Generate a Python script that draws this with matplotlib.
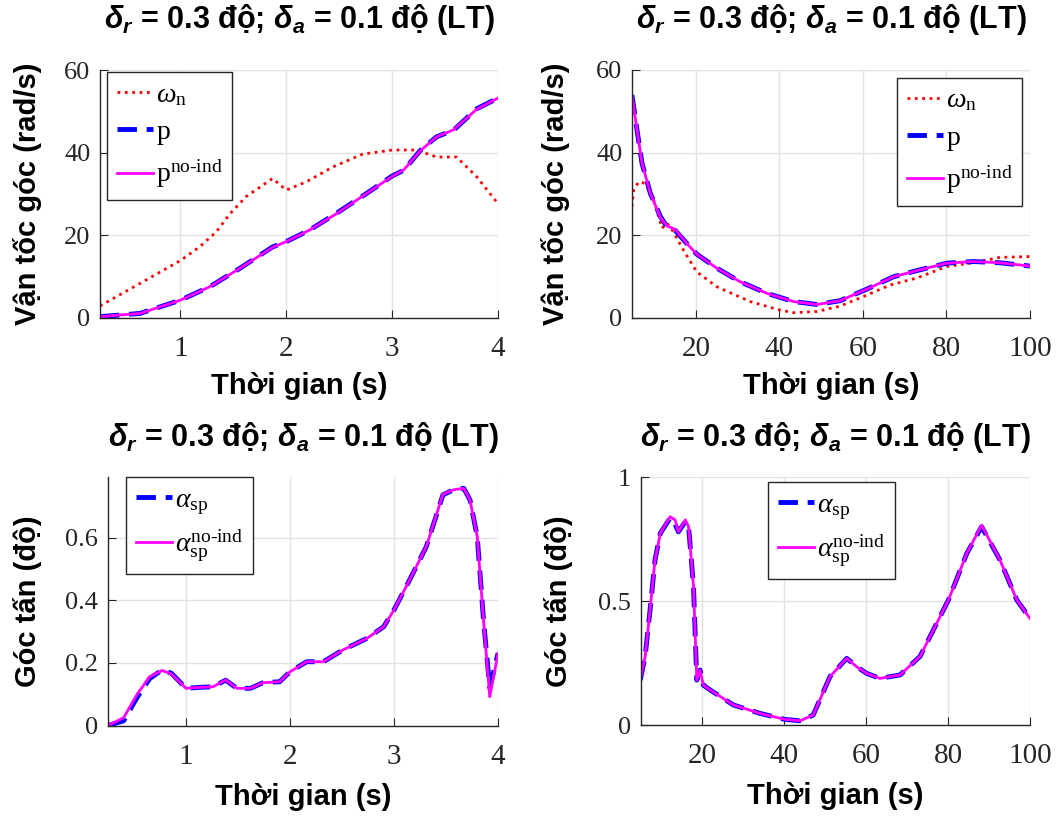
import matplotlib
matplotlib.use("Agg")
import matplotlib.pyplot as plt

# fonts: sans bold for titles/labels, serif for ticks and legends
plt.rcParams['font.family'] = ['Liberation Sans', 'DejaVu Sans']
plt.rcParams['mathtext.fontset'] = 'custom'
plt.rcParams['mathtext.rm'] = 'Liberation Serif'
plt.rcParams['mathtext.it'] = 'Liberation Serif:italic'
plt.rcParams['mathtext.bf'] = 'Liberation Sans:bold:italic'

# ---- data: top-left, angular rates over 0..4 s ----
t1_w = [0.24, 0.62, 1.0, 1.18, 1.34, 1.47, 1.62, 1.87, 2.0, 2.19, 2.44, 2.72,
        3.0, 3.23, 3.42, 3.61, 3.80, 4.0]
w1 = [2.8, 8.3, 13.8, 17.1, 20.8, 25.2, 29.3, 33.7, 30.9, 32.9, 36.5, 39.6,
      40.6, 40.6, 38.9, 38.9, 34.1, 27.6]
t1_p = [0.24, 0.62, 1.0, 1.28, 1.56, 1.87, 2.0, 2.22, 2.47, 2.76, 3.0, 3.11,
        3.27, 3.42, 3.58, 3.80, 4.0]
p1 = [0.2, 1.0, 4.2, 7.5, 11.9, 17.1, 18.4, 21.2, 25.2, 30.1, 34.3, 35.7,
      40.6, 43.8, 45.4, 50.6, 53.2]
p1_noind = [0.2, 1.0, 4.2, 7.5, 11.9, 17.0, 18.4, 21.2, 25.1, 30.1, 34.2, 35.8,
            40.5, 43.8, 45.5, 50.5, 53.2]

# ---- data: top-right, angular rates over 5..100 s ----
t2_w = [4.7, 5.1, 6.3, 7.9, 9.9, 11.9, 13.1, 14.6, 17.0, 20.2, 25.0, 33.0,
        39.9, 43.4, 49.0, 54.5, 60.1, 66.5, 72.9, 80.1, 86.4, 92.8, 100]
w2 = [26.9, 30.9, 32.9, 32.5, 28.5, 21.7, 22.9, 20.8, 16.4, 11.1, 7.5, 3.9,
      1.9, 1.2, 1.5, 2.8, 5.1, 7.9, 9.6, 12.4, 13.3, 14.6, 14.8]
t2_p = [4.7, 5.9, 7.1, 9.1, 11.5, 13.1, 15.0, 17.8, 20.2, 25.0, 30.6, 37.0,
        43.4, 49.0, 54.5, 60.9, 67.3, 73.7, 80.1, 86.4, 92.8, 100]
p2 = [53.9, 45.5, 37.4, 30.1, 24.5, 22.0, 21.2, 18.0, 15.4, 12.0, 8.7, 5.9,
      3.9, 3.2, 4.1, 6.9, 9.9, 11.6, 13.2, 13.6, 13.3, 12.5]
p2_noind = [53.9, 45.5, 37.4, 30.1, 24.3, 22.2, 21.4, 18.0, 15.4, 12.0, 8.7, 5.9,
            3.9, 3.2, 4.1, 6.9, 9.9, 11.6, 13.2, 13.6, 13.3, 12.5]

# ---- data: bottom-left, angle of attack over 0..4 s ----
t3 = [0.25, 0.40, 0.53, 0.65, 0.77, 0.86, 1.0, 1.13, 1.26, 1.38, 1.49, 1.62,
      1.74, 1.90, 2.0, 2.16, 2.32, 2.51, 2.74, 2.90, 3.0, 3.15, 3.31, 3.47,
      3.57, 3.67, 3.73, 3.80, 3.86, 3.92, 4.0]
a3 = [0.0, 0.015, 0.09, 0.15, 0.178, 0.167, 0.119, 0.122, 0.124, 0.145, 0.119,
      0.119, 0.137, 0.140, 0.172, 0.204, 0.204, 0.242, 0.279, 0.316, 0.37,
      0.466, 0.572, 0.738, 0.754, 0.759, 0.722, 0.604, 0.338, 0.12, 0.231]
a3_noind = [0.0, 0.025, 0.10, 0.156, 0.176, 0.165, 0.119, 0.122, 0.124, 0.146,
            0.119, 0.119, 0.137, 0.140, 0.172, 0.204, 0.204, 0.242, 0.279,
            0.316, 0.37, 0.466, 0.572, 0.740, 0.754, 0.759, 0.722, 0.604,
            0.338, 0.092, 0.231]

# ---- data: bottom-right, angle of attack over 5..100 s ----
t4 = [4.9, 6.1, 7.3, 8.5, 9.8, 12.2, 13.4, 14.2, 15.9, 16.7, 17.9, 18.7, 19.5,
      20.3, 22.0, 27.6, 34.1, 40.1, 43.9, 47.1, 51.2, 55.3, 57.7, 60.2, 63.4,
      68.3, 73.2, 80.1, 84.6, 88.2, 92.7, 96.8, 100]
a4 = [0.181, 0.277, 0.464, 0.665, 0.773, 0.835, 0.81, 0.779, 0.82, 0.80,
      0.558, 0.181, 0.222, 0.161, 0.141, 0.081, 0.047, 0.023, 0.017, 0.040,
      0.195, 0.269, 0.235, 0.208, 0.188, 0.202, 0.277, 0.504, 0.692, 0.80,
      0.665, 0.504, 0.43]
a4_noind = [0.181, 0.277, 0.464, 0.665, 0.773, 0.84, 0.827, 0.779, 0.827, 0.80,
            0.558, 0.181, 0.222, 0.161, 0.141, 0.081, 0.047, 0.023, 0.017,
            0.040, 0.195, 0.269, 0.235, 0.208, 0.188, 0.202, 0.277, 0.504,
            0.692, 0.806, 0.665, 0.504, 0.43]

title_txt = r'$\mathbf{\delta_r}$ = 0.3 độ; $\mathbf{\delta_a}$ = 0.1 độ (LT)'
lbl_w = r'$\omega_{\rm n}$'
lbl_p = r'$\rm p$'
lbl_pn = r'$\rm p^{no\text{-}ind}$'
lbl_a = r'$\alpha_{\rm sp}$'
lbl_an = r'$\alpha_{\rm sp}^{\rm no\text{-}ind}$'

dash_style = (0, (4, 2))

fig = plt.figure(figsize=(10.57, 8.16), dpi=100)
ax_tl = fig.add_axes([0.0946, 0.6109, 0.3765, 0.3033])
ax_tr = fig.add_axes([0.5979, 0.6107, 0.3765, 0.3036])
ax_bl = fig.add_axes([0.1022, 0.1109, 0.3690, 0.3045])
ax_br = fig.add_axes([0.6061, 0.1115, 0.3683, 0.3039])


def style_axes(ax, title, title_pad, ylabel, ylab_x, xlab_y):
    # matlab-like look: grid, inward ticks, only left/bottom axis lines
    ax.grid(True, color='#e3e3e3', linewidth=1.0)
    ax.set_axisbelow(True)
    for s in ['top', 'right']:
        ax.spines[s].set_visible(False)
    for s in ['left', 'bottom']:
        ax.spines[s].set_color('#262626')
        ax.spines[s].set_linewidth(1.0)
    ax.tick_params(axis='both', direction='in', length=6, color='#262626',
                   labelcolor='#262626')
    ax.tick_params(axis='x', pad=13, labelsize=21)
    ax.tick_params(axis='y', pad=7, labelsize=19)
    for lab in ax.get_xticklabels() + ax.get_yticklabels():
        lab.set_fontfamily('Liberation Serif')
    ax.set_title(title, fontsize=22, fontweight='bold', pad=title_pad)
    ax.set_xlabel('Thời gian (s)', fontsize=21, fontweight='bold')
    ax.xaxis.set_label_coords(0.5, xlab_y)
    ax.set_ylabel(ylabel, fontsize=21, fontweight='bold')
    ax.yaxis.set_label_coords(ylab_x, 0.5)


def add_legend(ax, x, y):
    leg = ax.legend(loc='upper left', bbox_to_anchor=(x, y), fontsize=20,
                    fancybox=False, framealpha=1, edgecolor='#262626',
                    handlelength=1.3, handletextpad=0.1, borderpad=0.35,
                    labelspacing=0.4, borderaxespad=0)
    leg.get_frame().set_linewidth(1.0)


# top-left
ax_tl.plot(t1_w, w1, color='red', linestyle=':', linewidth=2, label=lbl_w)
ax_tl.plot(t1_p, p1, color='blue', linestyle=dash_style, linewidth=3.5, label=lbl_p)
ax_tl.plot(t1_p, p1_noind, color='magenta', linewidth=2, label=lbl_pn)
ax_tl.set_xlim(0.24, 4)
ax_tl.set_ylim(0, 60)
ax_tl.set_xticks([1, 2, 3, 4])
ax_tl.set_yticks([0, 20, 40, 60])
style_axes(ax_tl, title_txt, 30, 'Vận tốc góc (rad/s)', -0.145, -0.22)
add_legend(ax_tl, 0.018, 0.992)

# top-right
ax_tr.plot(t2_w, w2, color='red', linestyle=':', linewidth=2, label=lbl_w)
ax_tr.plot(t2_p, p2, color='blue', linestyle=dash_style, linewidth=3.5, label=lbl_p)
ax_tr.plot(t2_p, p2_noind, color='magenta', linewidth=2, label=lbl_pn)
ax_tr.set_xlim(4.7, 100)
ax_tr.set_ylim(0, 60)
ax_tr.set_xticks([20, 40, 60, 80, 100])
ax_tr.set_yticks([0, 20, 40, 60])
style_axes(ax_tr, title_txt, 30, 'Vận tốc góc (rad/s)', -0.155, -0.22)
add_legend(ax_tr, 0.666, 0.968)

# bottom-left
ax_bl.plot(t3, a3, color='blue', linestyle=dash_style, linewidth=3.5, label=lbl_a)
ax_bl.plot(t3, a3_noind, color='magenta', linewidth=2, label=lbl_an)
ax_bl.set_xlim(0.25, 4)
ax_bl.set_ylim(0, 0.795)
ax_bl.set_xticks([1, 2, 3, 4])
ax_bl.set_yticks([0, 0.2, 0.4, 0.6])
ax_bl.set_yticklabels(['0', '0.2', '0.4', '0.6'])
style_axes(ax_bl, title_txt, 22, 'Góc tấn (độ)', -0.17, -0.23)
add_legend(ax_bl, 0.046, 1.0)

# bottom-right
ax_br.plot(t4, a4, color='blue', linestyle=dash_style, linewidth=3.5, label=lbl_a)
ax_br.plot(t4, a4_noind, color='magenta', linewidth=2, label=lbl_an)
ax_br.set_xlim(5, 100)
ax_br.set_ylim(0, 1)
ax_br.set_xticks([20, 40, 60, 80, 100])
ax_br.set_yticks([0, 0.5, 1])
ax_br.set_yticklabels(['0', '0.5', '1'])
style_axes(ax_br, title_txt, 22, 'Góc tấn (độ)', -0.175, -0.23)
add_legend(ax_br, 0.327, 0.98)

fig.savefig('out.png', dpi=100)
